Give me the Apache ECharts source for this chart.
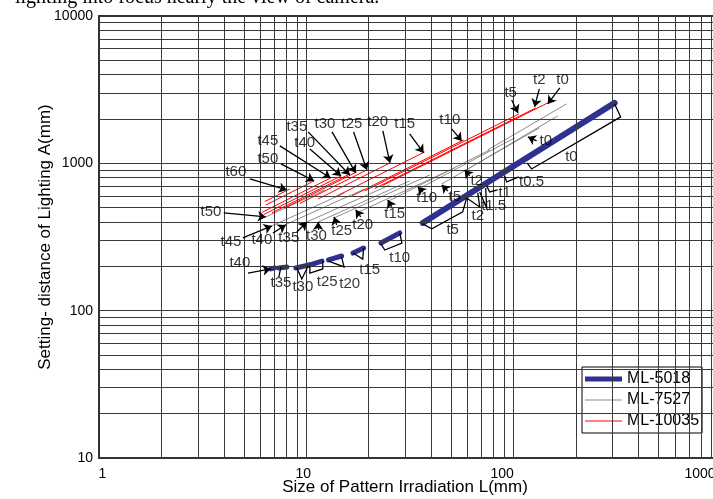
<!DOCTYPE html>
<html><head><meta charset="utf-8">
<script src="https://cdn.jsdelivr.net/npm/echarts@6/dist/echarts.min.js"></script>
<style>html,body{margin:0;padding:0;background:#fff}#c{width:713px;height:499px}</style>
</head><body><div id="c"></div>
<script>
// ---- axes / ticks ----
const xTickValues = [1, 10, 100, 1000];
const xTickLabels = ['1', '10', '100', '1000'];
const yTickLabels = ['10', '100', '1000', '10000'];
const gridX = [2,3,4,5,6,7,8,9,10,20,30,40,50,60,70,80,90,100,200,300,400,500,600,700,800,900];
const gridY = [20,30,40,50,60,70,80,90,100,200,300,400,500,600,700,800,900,1000,2000,3000,4000,5000,6000,7000,8000,9000];
const seriesNames = ['ML-5018', 'ML-7527', 'ML-10035'];

// ---- ML-10035 (red) ----
const redT      = ['t60','t50','t45','t40','t35','t30','t25','t20','t15','t10','t5','t2','t0'];
const redStartL = [6.31, 6.38, 6.10, 6.24, 6.82, 7.88, 9.30, 11.4, 13.9, 16.6, 19.1, 21.4, 23.4];
const redStartA = [551, 522, 464, 450, 461, 498, 534, 573, 596, 601, 649, 675, 708];
const redEndL   = [8.33, 10.9, 13.1, 14.7, 16.2, 17.5, 19.6, 25.3, 37.2, 57.4, 106, 128, 146];
const redEndA   = [670, 760, 796, 821, 847, 874, 902, 1006, 1195, 1442, 2165, 2377, 2571];

// ---- ML-7527 (grey) ----
const grayT      = ['t50','t45','t40','t35','t30','t25','t20','t15','t10','t5','t2','t0'];
const grayStartL = [6.38, 6.82, 7.88, 10.06, 11.4, 13.6, 17.5, 25.0, 34.8, 45.0, 58.0, 74.9];
const grayStartA = [433, 376, 382, 400, 400, 426, 461, 556, 670, 725, 888, 1233];
const grayEndL   = [12.3, 15.3, 19.1, 25.3, 31.5, 39.4, 52.0, 76.6, 101, 133, 163, 180];
const grayEndA   = [660, 630, 670, 714, 760, 834, 931, 1233, 1487, 1739, 2098, 2531];

// ---- ML-5018 (blue) ----
const blueT      = ['t40','t35','t30','t25','t20','t15','t10','t5-t0'];
const blueStartL = [6.74, 7.37, 8.90, 10.3, 12.8, 16.8, 22.9, 36.4];
const blueStartA = [192, 195, 195, 204, 221, 246, 288, 394];
const blueEndL   = [7.05, 8.05, 10.3, 11.9, 14.8, 18.9, 28.2, 307];
const blueEndA   = [195, 198, 204, 217, 235, 266, 337, 2571];

// ---- annotation arrows ----
const arrowFromL = [5.34,7.54,7.45,10.4,10.2,13.3,16.9,23.4,31.5,50.2,97.8,133,167,
                    4.00,4.94,6.90,9.00,11.4,14.0,18.3,25.8,36.4,48.1,61.4,129,
                    5.23];
const arrowFromA = [784,991,1313,1252,1634,1634,1634,1660,1584,1712,2694,3199,3250,
                    461,312,337,342,353,382,433,506,639,649,821,1420,
                    180];
const arrowToL   = [8.05,10.9,13.1,14.7,16.2,17.3,19.6,25.3,36.8,56.2,105,126,146,
                    6.38,6.82,7.96,10.06,11.4,13.6,17.3,24.7,34.5,45.0,58.0,117,
                    6.74];
const arrowToA   = [660,760,796,821,834,861,902,1006,1177,1420,2199,2415,2531,
                    433,376,382,400,400,433,483,564,692,714,902,1511,
                    192];

// ---- annotation labels ----
const labelText = ['t60','t50','t45','t40','t35','t30','t25','t20','t15','t10','t5','t2','t0',
                   't50','t45','t40','t35','t30','t25','t20','t15','t10','t5','t2','t0',
                   't40',
                   't35','t30','t25','t20','t15','t10','t5','t2','t1.5','t1','t0.5','t0'];
const labelL = [4.57,6.52,6.52,9.83,9.00,12.3,16.6,22.1,29.8,49.2,96.7,133,172,
                3.47,4.33,6.10,8.23,11.2,14.8,18.7,26.7,38.1,52.0,66.3,143,
                4.78,
                7.54,9.62,12.6,16.2,20.2,28.2,50.8,67.1,80.1,90.5,122,190];
const labelA = [874,1071,1420,1376,1767,1851,1851,1910,1851,1971,3006,3683,3683,
                468,293,302,312,321,348,382,453,582,592,760,1420,
                211,
                154,145,157,152,189,228,353,439,514,630,748,1105];

// ---- brackets along ML-5018 ----
const bracketL = [[307,328,122,116],[90.5,92.5,106],[74.1,76.6,83.7],[68.6,74.1,73.3],[59.3,68.6,67.1],
                  [36.4,40.3,56.8,59.3],[7.54,7.37],[9.00,9.51,10.2],[10.4,10.4,12.0,12.0],
                  [12.8,15.2,14.8],[16.8,18.7,18.9],[22.9,23.9,28.9,28.2]];
const bracketA = [[2531,2065,916,1006],[821,748,809],[703,639,660],[639,498,681],[582,506,630],
                  [388,359,468,582],[198,169],[195,164,201],[201,180,192,217],
                  [217,198,231],[246,224,266],[284,258,288,337]];

const FONT = '"Liberation Sans", Arial, Helvetica, sans-serif';
const BLUE = '#2E3192', GRAY = '#8c8c8c', RED = '#ff0000';

const series = [];
// grid lines
series.push({
  type: 'line', data: [], silent: true, z: 1, animation: false,
  markLine: {
    silent: true, symbol: ['none', 'none'], label: {show: false}, animation: false,
    lineStyle: {color: '#3a3a3a', width: 1, type: 'solid'},
    emphasis: {disabled: true},
    data: gridX.map(v => ({xAxis: v})).concat(gridY.map(v => ({yAxis: v})))
  }
});
function seg(name, color, width, sl, sa, el, ea, z, cap) {
  return {type: 'line', name: name, data: [[sl, sa], [el, ea]], symbol: 'none', showSymbol: false,
    lineStyle: {color: color, width: width, cap: cap || 'butt'}, itemStyle: {color: color},
    z: z, silent: true, animation: false};
}
for (let i = 0; i < blueT.length; i++)
  series.push(seg(seriesNames[0], BLUE, i === blueT.length - 1 ? 6 : 5, blueStartL[i], blueStartA[i], blueEndL[i], blueEndA[i], 4, 'round'));
for (let i = 0; i < grayT.length; i++)
  series.push(seg(seriesNames[1], GRAY, 1, grayStartL[i], grayStartA[i], grayEndL[i], grayEndA[i], 3));
for (let i = 0; i < redT.length; i++)
  series.push(seg(seriesNames[2], RED, 1, redStartL[i], redStartA[i], redEndL[i], redEndA[i], 3));

series.push({
  type: 'lines', coordinateSystem: 'cartesian2d', silent: true, z: 5, animation: false,
  symbol: ['none', 'arrow'], symbolSize: 8,
  lineStyle: {color: '#000', width: 1.3, opacity: 1},
  data: arrowFromL.map((v, i) => ({coords: [[v, arrowFromA[i]], [arrowToL[i], arrowToA[i]]]}))
});
series.push({
  type: 'lines', coordinateSystem: 'cartesian2d', polyline: true, silent: true, z: 5, animation: false,
  symbol: ['none', 'none'],
  lineStyle: {color: '#000', width: 1.3, opacity: 1},
  data: bracketL.map((arr, i) => ({coords: arr.map((v, j) => [v, bracketA[i][j]])}))
});
series.push({
  type: 'scatter', silent: true, z: 6, animation: false, symbolSize: 1,
  itemStyle: {color: 'rgba(0,0,0,0)'},
  data: labelText.map((t, i) => [labelL[i], labelA[i], t]),
  label: {show: true, position: 'inside', formatter: p => p.data[2], fontSize: 15, color: '#000', fontFamily: FONT}
});

const xRich = {};
xTickLabels.forEach((t, i) => {
  const pads = [[0,0,0,7],[0,6,0,0],[0,23,0,0],[0,42,0,0]];
  xRich['p' + i] = {padding: pads[i], fontSize: 14, color: '#000', fontFamily: FONT};
});

const option = {
  animation: false,
  backgroundColor: '#fff',
  grid: {left: 99, top: 16, right: -8, bottom: 41, show: true, borderColor: '#333', borderWidth: 2,
         containLabel: false, outerBoundsMode: 'none'},
  xAxis: {
    type: 'log', logBase: 10, min: 1, max: 1000,
    name: 'Size of Pattern Irradiation L(mm)', nameLocation: 'middle', nameGap: 21, nameMoveOverlap: false,
    nameTextStyle: {fontSize: 17, color: '#000', fontFamily: FONT, padding: [0, 10, 0, 0]},
    axisLine: {show: true, lineStyle: {color: '#333', width: 2}},
    axisTick: {show: false}, splitLine: {show: false},
    axisLabel: {margin: 9, formatter: v => { const i = xTickValues.indexOf(Math.round(v)); return i < 0 ? '' : '{p' + i + '|' + xTickLabels[i] + '}'; }, rich: xRich}
  },
  yAxis: {
    type: 'log', logBase: 10, min: 10, max: 10000,
    name: 'Setting- distance of Lighting A(mm)', nameLocation: 'middle', nameGap: 45, nameMoveOverlap: false,
    nameTextStyle: {fontSize: 17, color: '#000', fontFamily: FONT},
    axisLine: {show: true, lineStyle: {color: '#333', width: 2}},
    axisTick: {show: false}, splitLine: {show: false},
    axisLabel: {margin: 6, fontSize: 14, color: '#000', fontFamily: FONT,
      formatter: v => { const i = Math.round(Math.log10(v)) - 1; return yTickLabels[i] || ''; }}
  },
  legend: {
    data: [
      {name: seriesNames[0], icon: 'path://M0,0M37,14M0,4.5H37V9.5H0Z', itemStyle: {color: BLUE}},
      {name: seriesNames[1], icon: 'path://M0,0M37,14M0,6.5H37V7.5H0Z', itemStyle: {color: GRAY}},
      {name: seriesNames[2], icon: 'path://M0,0M37,14M0,6.5H37V7.5H0Z', itemStyle: {color: RED}}
    ],
    orient: 'vertical', left: 582, top: 367,
    backgroundColor: '#fff', borderColor: '#000', borderWidth: 1, borderRadius: 0,
    padding: [4, 3, 4, 3], itemWidth: 37, itemHeight: 14, itemGap: 5,
    textStyle: {fontSize: 16, color: '#000', fontFamily: FONT}, selectedMode: false
  },
  graphic: [{type: 'text', x: 15, y: -12, silent: true,
    style: {text: 'lighting into focus nearly the view of camera.', font: '20px "Liberation Serif", "Times New Roman", serif', fill: '#000'}}],
  series: series
};
const chart = echarts.init(document.getElementById('c'));
chart.setOption(option);
</script></body></html>
